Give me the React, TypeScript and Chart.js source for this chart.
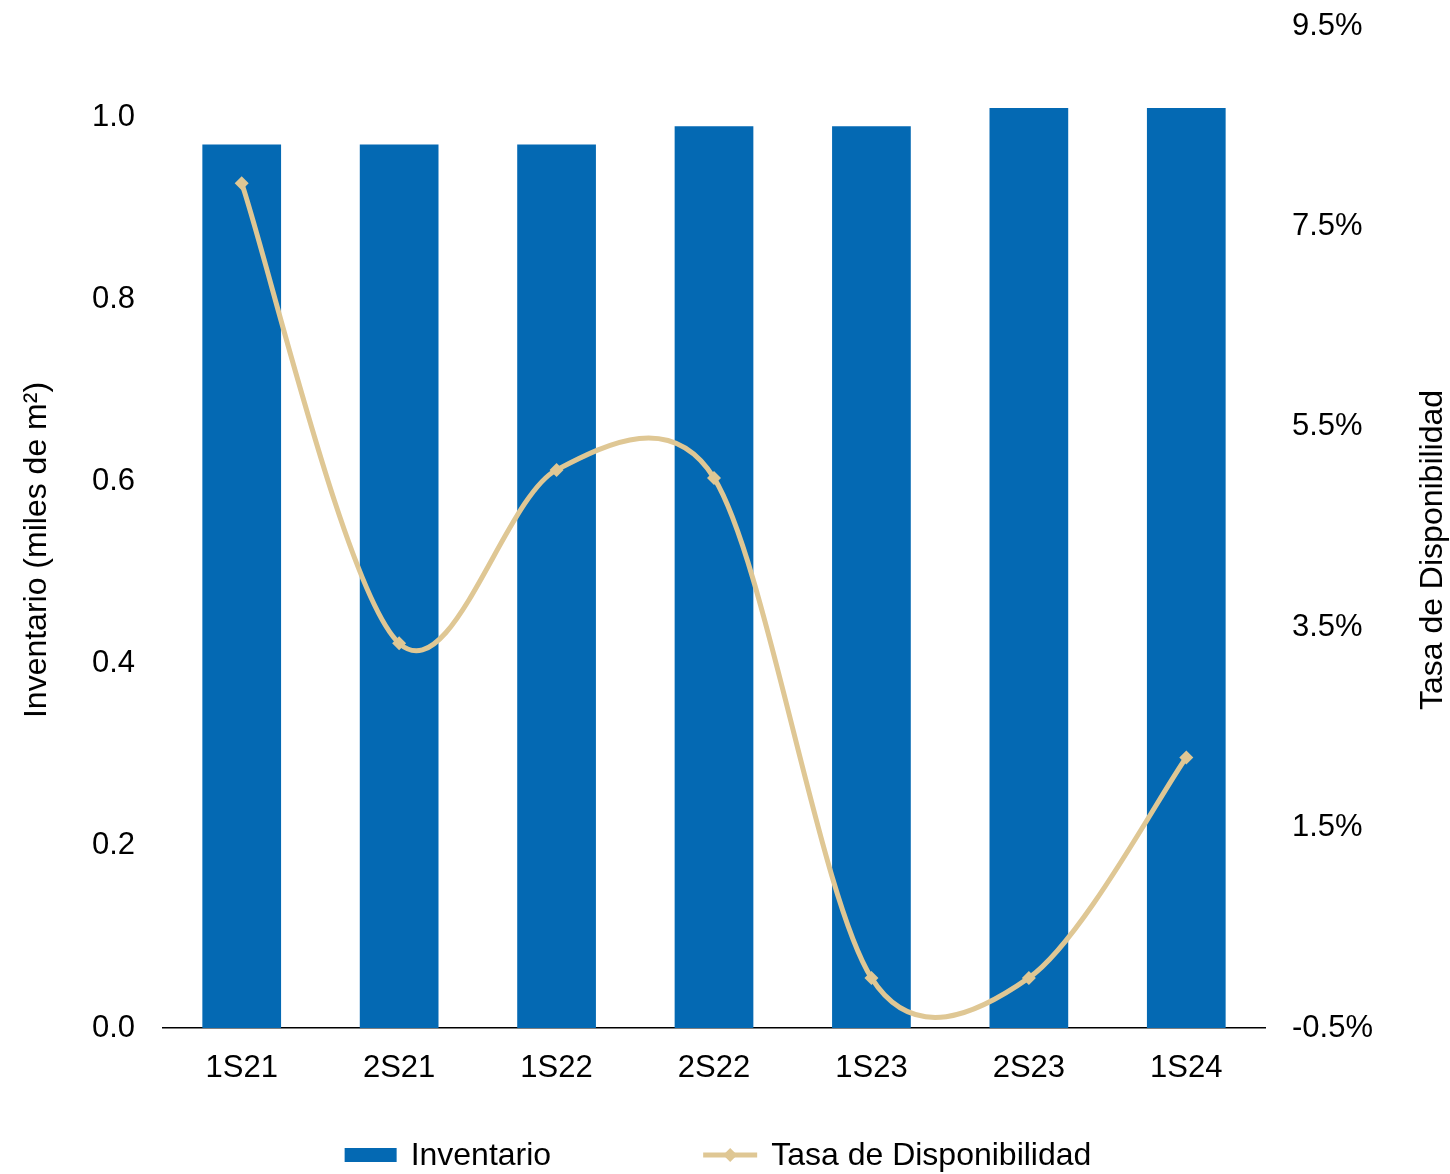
import React, { useEffect, useRef } from "react";
import { Chart, registerables } from "chart.js";

Chart.register(...registerables);

const categories = ["1S21", "2S21", "1S22", "2S22", "1S23", "2S23", "1S24"];
const inventario = [0.97, 0.97, 0.97, 0.99, 0.99, 1.01, 1.01];
const tasaDisponibilidad = [7.93, 3.34, 5.07, 4.99, 0.0, 0.0, 2.2];
const leftTicks = [0, 0.2, 0.4, 0.6, 0.8, 1.0];
const rightTicks = [-0.5, 1.5, 3.5, 5.5, 7.5, 9.5];
const seriesNames = ["Inventario", "Tasa de Disponibilidad"];
const axisTitles = ["Inventario (miles de m²)", "Tasa de Disponibilidad"];

const FONT = "'Liberation Sans', Arial, Helvetica, sans-serif";
const BAR_COLOR = "#0469B3";
const LINE_COLOR = "#DFC794";

// Excel-like smoothing of the library's own line element control points
const smoothPlugin = {
  id: "excelSmooth",
  beforeDatasetDraw(chart: any, args: any) {
    const meta = chart.getDatasetMeta(args.index);
    if (meta.type !== "line" || !meta.dataset) return;
    const line = meta.dataset;
    if (typeof line.updateControlPoints === "function") {
      line.updateControlPoints(chart.chartArea, meta.indexAxis || "x");
    }
    const pts = meta.data;
    const n = pts.length;
    const f = 1 / 6;
    for (let i = 0; i < n - 1; i++) {
      const p1 = pts[i];
      const p2 = pts[i + 1];
      const p0 = i > 0 ? pts[i - 1] : p1;
      const p3 = i + 2 < n ? pts[i + 2] : p2;
      const d12 = Math.hypot(p2.x - p1.x, p2.y - p1.y);
      const lim = d12 / 2;
      let v1x = (p2.x - p0.x) * f;
      let v1y = (p2.y - p0.y) * f;
      const l1 = Math.hypot(v1x, v1y);
      if (l1 > lim) {
        v1x *= lim / l1;
        v1y *= lim / l1;
      }
      let v2x = (p3.x - p1.x) * f;
      let v2y = (p3.y - p1.y) * f;
      const l2 = Math.hypot(v2x, v2y);
      if (l2 > lim) {
        v2x *= lim / l2;
        v2y *= lim / l2;
      }
      p1.cp2x = p1.x + v1x;
      p1.cp2y = p1.y + v1y;
      p2.cp1x = p2.x - v2x;
      p2.cp1y = p2.y - v2y;
    }
    line._path = undefined;
  },
};

const overlayPlugin = {
  id: "overlay",
  afterDraw(chart: any) {
    const ctx = chart.ctx as CanvasRenderingContext2D;
    const area = chart.chartArea;
    ctx.save();
    ctx.fillStyle = "#000";
    ctx.font = `32px ${FONT}`;
    ctx.textAlign = "center";
    ctx.textBaseline = "middle";
    const titleY = (area.top + area.bottom) / 2 + 23;
    ctx.save();
    ctx.translate(37, titleY);
    ctx.rotate(-Math.PI / 2);
    ctx.fillText(axisTitles[0], 0, 0);
    ctx.restore();
    ctx.save();
    ctx.translate(1433, titleY);
    ctx.rotate(-Math.PI / 2);
    ctx.fillText(axisTitles[1], 0, 0);
    ctx.restore();

    // legend
    ctx.textAlign = "left";
    const legendY = 1156;
    const w1 = ctx.measureText(seriesNames[0]).width;
    const w2 = ctx.measureText(seriesNames[1]).width;
    const sym1 = 52;
    const sym2 = 54;
    const gapText = 14;
    const gapItems = 152;
    const total = sym1 + gapText + w1 + gapItems + sym2 + gapText + w2;
    let x = (area.left + area.right) / 2 + 4 - total / 2;
    ctx.fillStyle = BAR_COLOR;
    ctx.fillRect(x, legendY - 8, sym1, 14);
    x += sym1 + gapText;
    ctx.fillStyle = "#000";
    ctx.fillText(seriesNames[0], x, legendY);
    x += w1 + gapItems;
    ctx.strokeStyle = LINE_COLOR;
    ctx.lineWidth = 5;
    ctx.beginPath();
    ctx.moveTo(x, legendY - 1);
    ctx.lineTo(x + sym2, legendY - 1);
    ctx.stroke();
    ctx.fillStyle = LINE_COLOR;
    const cx = x + sym2 / 2;
    const cy = legendY - 1;
    ctx.beginPath();
    ctx.moveTo(cx, cy - 7);
    ctx.lineTo(cx + 7, cy);
    ctx.lineTo(cx, cy + 7);
    ctx.lineTo(cx - 7, cy);
    ctx.closePath();
    ctx.fill();
    x += sym2 + gapText;
    ctx.fillStyle = "#000";
    ctx.fillText(seriesNames[1], x, legendY);
    ctx.restore();
  },
};

export default function App() {
  const ref = useRef<HTMLCanvasElement | null>(null);

  useEffect(() => {
    if (!ref.current) return;
    const chart = new Chart(ref.current, {
      type: "bar",
      data: {
        labels: categories,
        datasets: [
          {
            type: "line",
            label: seriesNames[1],
            data: tasaDisponibilidad,
            yAxisID: "y1",
            borderColor: LINE_COLOR,
            backgroundColor: LINE_COLOR,
            borderWidth: 5,
            tension: 0.4,
            pointStyle: "rectRot",
            pointRadius: 7,
            pointBorderWidth: 0,
            pointBackgroundColor: LINE_COLOR,
            fill: false,
            order: 0,
          } as any,
          {
            type: "bar",
            label: seriesNames[0],
            data: inventario,
            yAxisID: "y",
            backgroundColor: BAR_COLOR,
            borderWidth: 0,
            categoryPercentage: 1,
            barPercentage: 0.5,
            order: 1,
          },
        ],
      },
      options: {
        responsive: false,
        animation: false,
        maintainAspectRatio: false,
        layout: { padding: { top: 26, left: 0, right: 0, bottom: 0 } },
        elements: { line: { capBezierPoints: false } },
        plugins: {
          legend: { display: false },
          tooltip: { enabled: false },
        },
        scales: {
          x: {
            grid: { display: false, drawTicks: false },
            border: { display: true, color: "#000", width: 1.5 },
            ticks: {
              color: "#000",
              font: { size: 31, family: FONT },
              padding: 22,
              maxRotation: 0,
            },
            afterFit: (s: any) => {
              s.height = 146;
            },
          },
          y: {
            position: "left",
            min: 0,
            max: 1.1,
            grid: { display: false, drawTicks: false },
            border: { display: false },
            afterBuildTicks: (s: any) => {
              s.ticks = leftTicks.map((v) => ({ value: v }));
            },
            ticks: {
              color: "#000",
              font: { size: 31, family: FONT },
              padding: 28,
              callback: (v: any) => Number(v).toFixed(1),
            },
            afterFit: (s: any) => {
              s.width = 163;
              s.paddingTop = 0;
              s.paddingBottom = 0;
            },
          },
          y1: {
            position: "right",
            min: -0.5,
            max: 9.5,
            grid: { display: false, drawTicks: false },
            border: { display: false },
            afterBuildTicks: (s: any) => {
              s.ticks = rightTicks.map((v) => ({ value: v }));
            },
            ticks: {
              color: "#000",
              font: { size: 31, family: FONT },
              padding: 27,
              callback: (v: any) => Number(v).toFixed(1) + "%",
            },
            afterFit: (s: any) => {
              s.width = 185;
              s.paddingTop = 0;
              s.paddingBottom = 0;
            },
          },
        },
      },
      plugins: [smoothPlugin, overlayPlugin],
    });
    return () => chart.destroy();
  }, []);

  return (
    <div style={{ position: "absolute", left: 0, top: 0, width: 1450, height: 1174, background: "#fff" }}>
      <canvas ref={ref} width={1450} height={1174} style={{ width: 1450, height: 1174, display: "block" }} />
    </div>
  );
}
